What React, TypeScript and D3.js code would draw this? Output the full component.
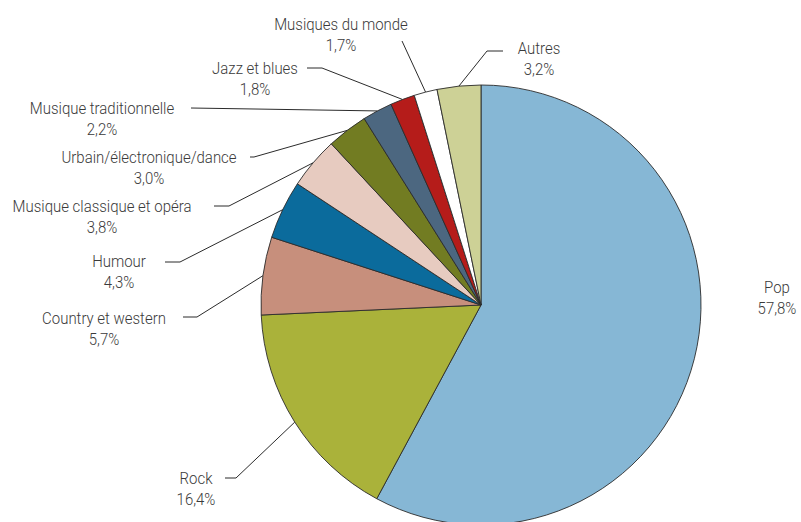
import React from "react";
import * as d3 from "d3";

const categories = [
  "Pop",
  "Rock",
  "Country et western",
  "Humour",
  "Musique classique et opéra",
  "Urbain/électronique/dance",
  "Musique traditionnelle",
  "Jazz et blues",
  "Musiques du monde",
  "Autres",
];
const values = [57.8, 16.4, 5.7, 4.3, 3.8, 3.0, 2.2, 1.8, 1.7, 3.2];
const valueLabels = ["57,8%", "16,4%", "5,7%", "4,3%", "3,8%", "3,0%", "2,2%", "1,8%", "1,7%", "3,2%"];
const colors = [
  "#86B7D5",
  "#AAB23A",
  "#C78F7C",
  "#0B6B9C",
  "#E7CBC0",
  "#727C22",
  "#4C6780",
  "#B51C1A",
  "#FFFFFF",
  "#CDD196",
];

// label layout: text centre (x, y of first line), leader start and elbow
const labelLayout = [
  { x: 777, y: 287, leader: null },
  { x: 196, y: 478, leader: [[225, 478], [236, 478]] },
  { x: 104, y: 318, leader: [[183, 317], [197, 317]] },
  { x: 119, y: 261, leader: [[165, 262], [180, 262]] },
  { x: 102, y: 206, leader: [[214, 206], [229, 206]] },
  { x: 149, y: 157, leader: [[250, 157], [254, 157]] },
  { x: 102, y: 108, leader: [[191, 108]] },
  { x: 255, y: 68, leader: [[307, 68], [322, 68]] },
  { x: 341, y: 24, leader: [[402, 41]] },
  { x: 539, y: 48, leader: [[503, 51], [487, 51]] },
];

const W = 801;
const H = 522;
const CX = 481;
const CY = 305;
const R = 220;
const FONT = "Roboto, 'DejaVu Sans Condensed', sans-serif";
const SX = 0.88;

export default function App() {
  const pie = d3
    .pie<number>()
    .sort(null)
    .value((d) => d)
    .startAngle(0)
    .endAngle(2 * Math.PI);
  const arcs = pie(values);
  const arcGen = d3.arc<d3.PieArcDatum<number>>().innerRadius(0).outerRadius(R);

  return (
    <div style={{ position: "fixed", left: 0, top: 0 }}>
      <svg width={W} height={H} style={{ display: "block" }}>
        <rect width={W} height={H} fill="#fff" />
        <g transform={`translate(${CX},${CY})`}>
          {arcs.map((a, i) => (
            <path
              key={categories[i]}
              d={arcGen(a) || ""}
              fill={colors[i]}
              stroke="#2b2b2b"
              strokeWidth={0.9}
              strokeLinejoin="round"
            />
          ))}
        </g>
        {arcs.map((a, i) => {
          const lay = labelLayout[i];
          if (!lay.leader) return null;
          const mid = (a.startAngle + a.endAngle) / 2;
          const ex = CX + R * Math.sin(mid);
          const ey = CY - R * Math.cos(mid);
          const pts = [...lay.leader, [ex, ey]];
          const line = d3.line()(pts as [number, number][]);
          return (
            <path
              key={"l" + i}
              d={line || ""}
              fill="none"
              stroke="#2b2b2b"
              strokeWidth={1}
            />
          );
        })}
        {categories.map((c, i) => {
          const lay = labelLayout[i];
          return (
            <text
              key={"t" + i}
              transform={`translate(${lay.x},${lay.y}) scale(${SX},1)`}
              textAnchor="middle"
              fontFamily={FONT}
              fontSize={17}
              fontWeight={300}
              fill="#3a3a3a"
            >
              <tspan x={0} dy="0.35em">
                {c}
              </tspan>
              <tspan x={0} dy="21.5">
                {valueLabels[i]}
              </tspan>
            </text>
          );
        })}
      </svg>
    </div>
  );
}
